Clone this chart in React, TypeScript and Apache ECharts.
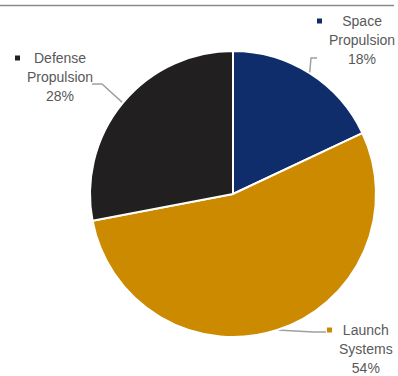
import React, { useEffect, useRef } from 'react';
import * as echarts from 'echarts';

const categories = ['Space\nPropulsion', 'Launch\nSystems', 'Defense\nPropulsion'];
const shares = [18, 54, 28];
const colors = ['#0F2D6B', '#CC8A00', '#221F20'];

export default function App() {
  const ref = useRef<HTMLDivElement>(null);
  useEffect(() => {
    const chart = echarts.init(ref.current!, null, { renderer: 'svg' });
    const rich: any = {
      g: { width: 7, align: 'left' },
      sp: { width: 12, align: 'left' },
      t: { align: 'center' },
    };
    colors.forEach((c, i) => {
      rich['mk' + i] = { width: 5, height: 5, backgroundColor: c, align: 'left' };
    });
    // label anchor (left/top of label block) and leader elbow/end
    const labelPos = [
      { x: 317, y: 11.5, elbow: [311, 58], end: [317, 58] },
      { x: 327, y: 320.5, elbow: [313, 332], end: [326, 332] },
      { x: 15, y: 48.5, elbow: [102, 84], end: [92, 84] },
    ];
    const center = [233, 194];
    const radius = 143;
    const total = shares.reduce((a, b) => a + b, 0);
    chart.setOption({
      animation: false,
      graphic: [
        {
          type: 'line',
          shape: { x1: 0, y1: 5.5, x2: 394, y2: 5.5 },
          style: { stroke: '#8a8a8a', lineWidth: 1.5 },
        },
      ],
      series: [
        {
          type: 'pie',
          center,
          radius,
          startAngle: 90,
          clockwise: true,
          avoidLabelOverlap: false,
          emphasis: { disabled: true },
          itemStyle: { borderColor: '#ffffff', borderWidth: 2 },
          data: categories.map((name, i) => ({
            name,
            value: shares[i],
            itemStyle: { color: colors[i] },
          })),
          label: {
            show: true,
            position: 'outside',
            fontFamily: '"Liberation Sans Narrow", "Arial Narrow", "Liberation Sans", sans-serif',
            fontSize: 14,
            lineHeight: 19,
            color: '#595959',
            rich,
            formatter: (p: any) => {
              const lines = String(p.name).split('\n').concat(p.value + '%');
              return lines
                .map((l: string, k: number) =>
                  (k === 0 ? `{mk${p.dataIndex}|}{g|}` : '{sp|}') + `{t|${l}}`
                )
                .join('\n');
            },
          },
          labelLine: {
            show: true,
            smooth: false,
            lineStyle: { color: '#a0a0a0', width: 1.5 },
          },
          labelLayout: (params: any) => {
            const i = params.dataIndex;
            const lp = labelPos[i];
            let start = params.labelLinePoints && params.labelLinePoints[0];
            if (!start) {
              let before = 0;
              for (let k = 0; k < i; k++) before += shares[k];
              const mid = ((before + shares[i] / 2) / total) * Math.PI * 2;
              start = [center[0] + radius * Math.sin(mid), center[1] - radius * Math.cos(mid)];
            }
            return {
              x: lp.x,
              y: lp.y,
              align: 'left',
              verticalAlign: 'top',
              labelLinePoints: [start, lp.elbow, lp.end],
            };
          },
        },
      ],
    });
    return () => chart.dispose();
  }, []);
  return (
    <div
      ref={ref}
      style={{ position: 'fixed', left: 0, top: 0, width: 398, height: 376, background: '#fff' }}
    />
  );
}
